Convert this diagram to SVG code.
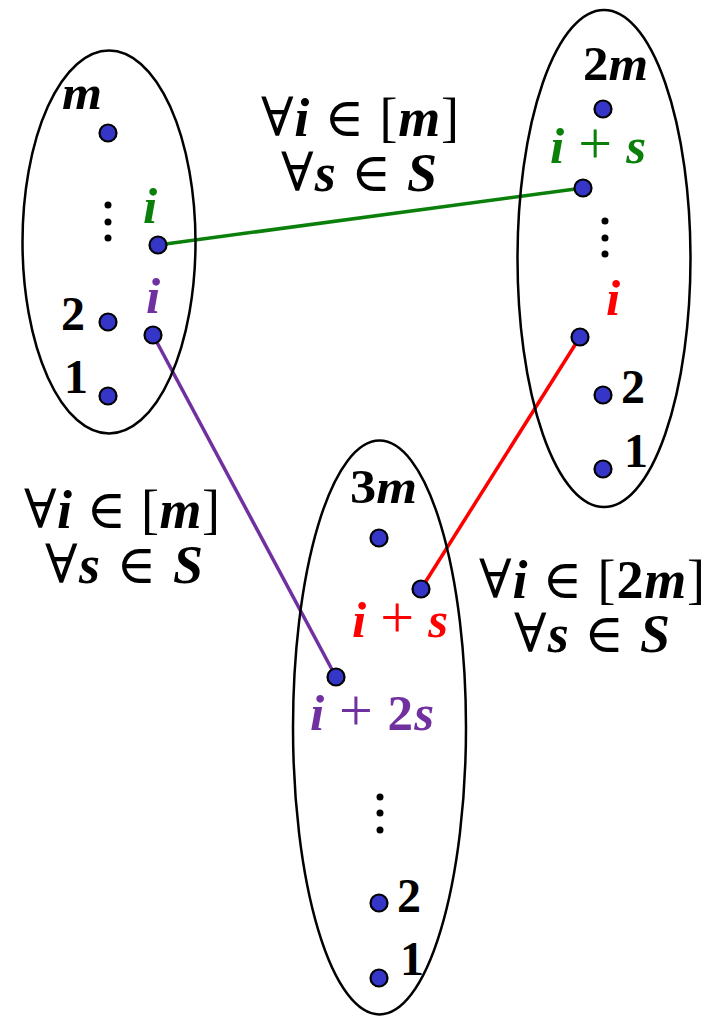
<svg xmlns="http://www.w3.org/2000/svg" width="717" height="1016" viewBox="0 0 717 1016">
<style>
.ell{fill:none;stroke:#000;stroke-width:2.5}
.pt{fill:#3535c8;stroke:#000;stroke-width:2.2}
.dd{fill:#000}
.lbl{font-family:"Liberation Serif","DejaVu Serif",serif;font-size:48px;font-weight:bold;fill:#000}
.big{font-size:51px}
.it{font-style:italic}
.pl{font-weight:normal;font-style:normal}
.plus{font-weight:normal;font-style:normal;font-size:60px}
.op{font-family:"DejaVu Serif","Liberation Serif",serif;font-weight:normal;font-style:normal}
.ann{font-family:"Liberation Serif","DejaVu Serif",serif;font-size:54px;font-weight:bold;fill:#000;text-anchor:middle}
.green{fill:#0a800a}
.red{fill:#ff0000}
.purple{fill:#7030a0}
.c{fill:none;stroke-width:3.5}
</style>
<rect width="717" height="1016" fill="#fff"/>
<g id="connectors">
<line class="c" x1="158" y1="245" x2="583" y2="188" stroke="#0a800a"/>
<line class="c" x1="580" y1="337" x2="421" y2="589" stroke="#ff0000"/>
<line class="c" x1="153" y1="335" x2="336" y2="677" stroke="#7030a0"/>
</g>
<g id="set-left">
<ellipse class="ell" cx="109" cy="242" rx="86.5" ry="191.5"/>
<text class="lbl it" x="62" y="109" textLength="40" lengthAdjust="spacingAndGlyphs">m</text>
<circle class="pt" cx="108" cy="133" r="8.5"/>
<circle class="dd" cx="108" cy="205" r="3.5"/>
<circle class="dd" cx="108" cy="222" r="3.5"/>
<circle class="dd" cx="108" cy="238" r="3.5"/>
<text class="lbl big it green" x="143" y="223">i</text>
<circle class="pt" cx="158" cy="245" r="8.5"/>
<text class="lbl" x="61" y="330">2</text>
<circle class="pt" cx="108" cy="322" r="8.5"/>
<text class="lbl big it purple" x="146" y="313">i</text>
<circle class="pt" cx="153" cy="335" r="8.5"/>
<text class="lbl" x="64" y="393">1</text>
<circle class="pt" cx="108" cy="396" r="8.5"/>
</g>
<g id="set-right">
<ellipse class="ell" cx="604" cy="258.5" rx="86.5" ry="248.5"/>
<text class="lbl" x="583" y="80" textLength="65" lengthAdjust="spacingAndGlyphs">2<tspan class="it">m</tspan></text>
<circle class="pt" cx="603" cy="109" r="8.5"/>
<text class="lbl big green" x="550" y="163" textLength="96" lengthAdjust="spacing"><tspan class="it">i</tspan><tspan class="pl"> </tspan><tspan class="plus">+</tspan><tspan class="pl"> </tspan><tspan class="it">s</tspan></text>
<circle class="pt" cx="583" cy="188" r="8.5"/>
<circle class="dd" cx="605" cy="221" r="3.5"/>
<circle class="dd" cx="605" cy="238" r="3.5"/>
<circle class="dd" cx="605" cy="254" r="3.5"/>
<text class="lbl big it red" x="606" y="315">i</text>
<circle class="pt" cx="580" cy="337" r="8.5"/>
<text class="lbl" x="621" y="403">2</text>
<circle class="pt" cx="603" cy="395" r="8.5"/>
<text class="lbl" x="624" y="467">1</text>
<circle class="pt" cx="603" cy="469" r="8.5"/>
</g>
<g id="set-bottom">
<ellipse class="ell" cx="379.5" cy="727.5" rx="86.5" ry="287"/>
<text class="lbl" x="350" y="503" textLength="67" lengthAdjust="spacingAndGlyphs">3<tspan class="it">m</tspan></text>
<circle class="pt" cx="379" cy="538" r="8.5"/>
<circle class="pt" cx="421" cy="589" r="8.5"/>
<text class="lbl big red" x="352" y="637" textLength="96" lengthAdjust="spacing"><tspan class="it">i</tspan><tspan class="pl"> </tspan><tspan class="plus">+</tspan><tspan class="pl"> </tspan><tspan class="it">s</tspan></text>
<circle class="pt" cx="336" cy="677" r="8.5"/>
<text class="lbl big purple" x="310" y="730" textLength="124" lengthAdjust="spacing"><tspan class="it">i</tspan><tspan class="pl"> </tspan><tspan class="plus">+</tspan><tspan class="pl"> </tspan>2<tspan class="it">s</tspan></text>
<circle class="dd" cx="380" cy="797" r="3.5"/>
<circle class="dd" cx="380" cy="813" r="3.5"/>
<circle class="dd" cx="380" cy="830" r="3.5"/>
<text class="lbl" x="397" y="912">2</text>
<circle class="pt" cx="379" cy="903" r="8.5"/>
<text class="lbl" x="400" y="975">1</text>
<circle class="pt" cx="379" cy="978" r="8.5"/>
</g>
<g id="label-top">
<text class="ann" x="360" y="136" textLength="198" lengthAdjust="spacing"><tspan class="op">∀</tspan><tspan class="it">i</tspan><tspan class="pl"> </tspan><tspan class="op">∈</tspan><tspan class="pl"> [</tspan><tspan class="it">m</tspan><tspan class="pl">]</tspan></text>
<text class="ann" x="359" y="191" textLength="156" lengthAdjust="spacing"><tspan class="op">∀</tspan><tspan class="it">s</tspan><tspan class="pl"> </tspan><tspan class="op">∈</tspan><tspan class="pl"> </tspan><tspan class="it">S</tspan></text>
</g>
<g id="label-left">
<text class="ann" x="122" y="528" textLength="196" lengthAdjust="spacing"><tspan class="op">∀</tspan><tspan class="it">i</tspan><tspan class="pl"> </tspan><tspan class="op">∈</tspan><tspan class="pl"> [</tspan><tspan class="it">m</tspan><tspan class="pl">]</tspan></text>
<text class="ann" x="124" y="583" textLength="158" lengthAdjust="spacing"><tspan class="op">∀</tspan><tspan class="it">s</tspan><tspan class="pl"> </tspan><tspan class="op">∈</tspan><tspan class="pl"> </tspan><tspan class="it">S</tspan></text>
</g>
<g id="label-right">
<text class="ann" x="592" y="598" textLength="226" lengthAdjust="spacing"><tspan class="op">∀</tspan><tspan class="it">i</tspan><tspan class="pl"> </tspan><tspan class="op">∈</tspan><tspan class="pl"> [</tspan>2<tspan class="it">m</tspan><tspan class="pl">]</tspan></text>
<text class="ann" x="592" y="652" textLength="156" lengthAdjust="spacing"><tspan class="op">∀</tspan><tspan class="it">s</tspan><tspan class="pl"> </tspan><tspan class="op">∈</tspan><tspan class="pl"> </tspan><tspan class="it">S</tspan></text>
</g>
</svg>
